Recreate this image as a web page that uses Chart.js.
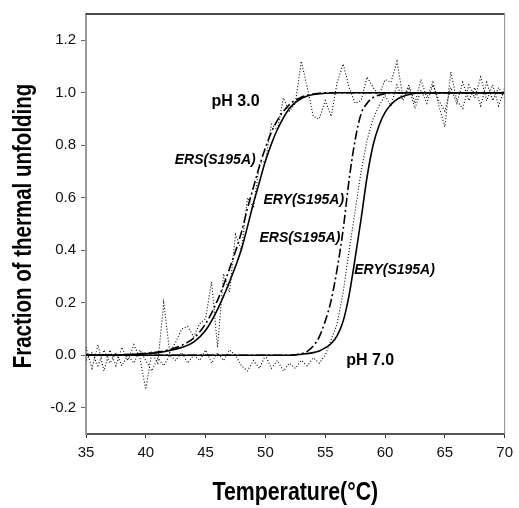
<!DOCTYPE html>
<html>
<head>
<meta charset="utf-8">
<script src="https://cdn.jsdelivr.net/npm/chart.js@4.4.0/dist/chart.umd.min.js"></script>
<style>
  body { margin: 0; background: #fff; }
</style>
</head>
<body>
<canvas id="myChart" width="519" height="508"></canvas>
<script>
var rawTemps = [35, 35.5, 36, 36.5, 37, 37.5, 38, 38.5, 39, 39.5,
    40, 40.5, 41, 41.5, 42, 42.5, 43, 43.5, 44, 44.5,
    45, 45.5, 46, 46.5, 47, 47.5, 48, 48.5, 49, 49.5,
    50, 50.5, 51, 51.5, 52, 52.5, 53, 53.5, 54, 54.5,
    55, 55.5, 56, 56.5, 57, 57.5, 58, 58.5, 59, 59.5,
    60, 60.5, 61, 61.5, 62, 62.5, 63, 63.5, 64, 64.5,
    65, 65.5, 66, 66.5, 67, 67.5, 68, 68.5, 69, 69.5, 70];
var ph3Raw = [0.03, -0.05, 0.04, -0.06, 0.02, -0.04, 0.03, -0.02, 0.04, -0.01,
    -0.13, 0.01, -0.03, 0.20, 0.01, 0.05, 0.10, 0.11, 0.07, 0.12,
    0.14, 0.28, 0.03, 0.31, 0.24, 0.46, 0.40, 0.60, 0.56, 0.73,
    0.74, 0.88, 0.86, 0.98, 0.93, 0.96, 1.12, 1.02, 0.91, 0.90,
    0.97, 0.91, 1.04, 1.11, 1.02, 0.96, 0.97, 1.06, 1.02, 0.99,
    1.05, 1.04, 1.12, 0.98, 1.03, 0.96, 1.05, 0.98, 1.04, 0.95,
    0.87, 1.08, 0.97, 0.94, 1.03, 0.98, 1.06, 0.97, 1.03, 0.95, 1.02];
var ph7Raw = [-0.02, 0.01, -0.04, 0.02, -0.03, 0.01, -0.04, 0.00, -0.03, 0.02,
    -0.02, -0.06, -0.01, -0.04, 0.00, -0.02, 0.01, -0.03, 0.00, -0.02,
    0.02, -0.03, 0.01, -0.02, 0.02, 0.00, -0.04, -0.06, -0.02, -0.05,
    0.00, -0.05, -0.02, -0.06, -0.03, -0.05, -0.02, -0.04, -0.01, -0.03,
    0.00, 0.06, 0.12, 0.24, 0.40, 0.55, 0.70, 0.82, 0.90, 0.95,
    0.99, 0.95, 1.03, 0.97, 1.02, 0.94, 1.01, 0.96, 1.03, 0.97,
    0.93, 1.02, 0.96, 1.04, 0.97, 1.02, 0.95, 1.04, 0.97, 1.02, 0.98];

// fitted curves
var ph3ErsTemps = [35, 38, 40, 41, 42, 43, 44, 45, 46, 47, 48, 48.5, 49, 49.5, 50, 50.5, 51, 52, 53, 54, 55, 70];
var ph3Ers = [0, 0.002, 0.007, 0.012, 0.022, 0.038, 0.065, 0.12, 0.21, 0.33, 0.47, 0.56, 0.64, 0.72, 0.79, 0.85, 0.895, 0.955, 0.983, 0.995, 1.0, 1.0];
var ph3EryTemps = [35, 38, 40, 41, 42, 43, 44, 45, 46, 47, 48, 48.5, 49, 49.5, 50, 50.5, 51, 52, 53, 54, 55, 56, 70];
var ph3Ery = [0, 0.002, 0.006, 0.01, 0.018, 0.03, 0.05, 0.095, 0.175, 0.28, 0.405, 0.49, 0.58, 0.66, 0.74, 0.805, 0.86, 0.94, 0.978, 0.993, 0.998, 1.0, 1.0];
var ph7ErsTemps = [35, 52, 53, 53.5, 54, 54.5, 55, 55.5, 56, 56.5, 57, 57.5, 58, 58.5, 59, 60, 61, 70];
var ph7Ers = [0, 0, 0.006, 0.015, 0.035, 0.07, 0.13, 0.21, 0.33, 0.48, 0.67, 0.82, 0.92, 0.96, 0.982, 0.996, 1.0, 1.0];
var ph7EryTemps = [35, 52, 53, 54, 54.5, 55, 55.5, 56, 56.5, 57, 57.5, 58, 58.5, 59, 59.5, 60, 60.5, 61, 62, 63, 70];
var ph7Ery = [0, 0, 0.004, 0.01, 0.016, 0.028, 0.045, 0.075, 0.13, 0.23, 0.37, 0.52, 0.68, 0.80, 0.875, 0.925, 0.955, 0.975, 0.993, 1.0, 1.0];

var xTicks = [35, 40, 45, 50, 55, 60, 65, 70];
var yTicks = [-0.2, 0, 0.2, 0.4, 0.6, 0.8, 1.0, 1.2];

var xTitle = 'Temperature(°C)';
var yTitle = 'Fraction of thermal unfolding';

// text labels, placed in data units
var notes = [
    { text: 'pH 3.0', x: 45.5, y: 0.966, font: 'bold 16px "Liberation Sans"' },
    { text: 'pH 7.0', x: 56.75, y: -0.02, font: 'bold 16px "Liberation Sans"' },
    { text: 'ERS(S195A)', x: 42.42, y: 0.742, font: 'italic bold 14px "Liberation Sans"' },
    { text: 'ERY(S195A)', x: 49.83, y: 0.592, font: 'italic bold 14px "Liberation Sans"' },
    { text: 'ERS(S195A)', x: 49.5, y: 0.447, font: 'italic bold 14px "Liberation Sans"' },
    { text: 'ERY(S195A)', x: 57.42, y: 0.324, font: 'italic bold 14px "Liberation Sans"' }
];

function pts(xs, ys) {
    return xs.map(function (t, i) { return { x: t, y: ys[i] }; });
}

function fitLine(label, xs, ys, dash) {
    return {
        label: label,
        data: pts(xs, ys),
        borderColor: '#000',
        borderWidth: 1.6,
        borderDash: dash,
        pointRadius: 0,
        cubicInterpolationMode: 'monotone',
        fill: false
    };
}

function rawLine(label, ys) {
    return {
        label: label,
        data: pts(rawTemps, ys),
        borderColor: '#000',
        borderWidth: 1.1,
        borderDash: [1, 2],
        pointRadius: 0,
        tension: 0,
        fill: false
    };
}

// condensed bold text, like the narrow face of the original
function narrowText(ctx, text, x, y, size, rot) {
    ctx.save();
    ctx.translate(x, y);
    ctx.rotate(rot);
    ctx.scale(0.82, 1);
    ctx.font = 'bold ' + size + 'px "Liberation Sans"';
    ctx.textAlign = 'center';
    ctx.textBaseline = 'middle';
    ctx.fillText(text, 0, 0);
    ctx.restore();
}

var textPlugin = {
    id: 'notes',
    afterDraw: function (chart) {
        var ctx = chart.ctx, a = chart.chartArea;
        var xs = chart.scales.x, ys = chart.scales.y;
        ctx.save();
        // frame top and right
        ctx.strokeStyle = '#111';
        ctx.lineWidth = 1.5;
        ctx.beginPath();
        ctx.moveTo(a.left, a.top);
        ctx.lineTo(a.right, a.top);
        ctx.stroke();
        ctx.strokeStyle = '#888';
        ctx.lineWidth = 1;
        ctx.beginPath();
        ctx.moveTo(a.right, a.top);
        ctx.lineTo(a.right, a.bottom);
        ctx.stroke();
        ctx.fillStyle = '#000';
        ctx.textAlign = 'left';
        ctx.textBaseline = 'middle';
        notes.forEach(function (n) {
            ctx.font = n.font;
            ctx.fillText(n.text, xs.getPixelForValue(n.x), ys.getPixelForValue(n.y));
        });
        // axis titles
        narrowText(ctx, xTitle, (a.left + a.right) / 2, 493, 26, 0);
        narrowText(ctx, yTitle, 24, (a.top + a.bottom) / 2 + 2, 25, -Math.PI / 2);
        ctx.restore();
    }
};

var ctx = document.getElementById('myChart').getContext('2d');

var myChart = new Chart(ctx, {
    type: 'line',
    data: {
        datasets: [
            fitLine('pH 3.0 ERS(S195A)', ph3ErsTemps, ph3Ers, [9, 3, 2, 3]),
            fitLine('pH 3.0 ERY(S195A)', ph3EryTemps, ph3Ery, []),
            fitLine('pH 7.0 ERS(S195A)', ph7ErsTemps, ph7Ers, [9, 3, 2, 3]),
            fitLine('pH 7.0 ERY(S195A)', ph7EryTemps, ph7Ery, []),
            rawLine('pH 3.0 data', ph3Raw),
            rawLine('pH 7.0 data', ph7Raw)
        ]
    },
    options: {
        responsive: false,
        animation: false,
        devicePixelRatio: 1,
        layout: { padding: { top: 14, right: 13, left: 0, bottom: 0 } },
        plugins: {
            legend: { display: false },
            tooltip: { enabled: false }
        },
        scales: {
            x: {
                type: 'linear',
                min: 35,
                max: 70,
                afterBuildTicks: function (scale) {
                    scale.ticks = xTicks.map(function (v) { return { value: v }; });
                },
                afterFit: function (scale) { scale.height = 74; },
                ticks: {
                    color: '#111',
                    font: { family: '"Liberation Sans"', size: 15 },
                    padding: 6,
                    maxRotation: 0
                },
                grid: { drawOnChartArea: false, drawTicks: true, tickLength: 4, color: '#333' },
                border: { color: '#555', width: 2 }
            },
            y: {
                min: -0.3,
                max: 1.3,
                afterBuildTicks: function (scale) {
                    scale.ticks = yTicks.map(function (v) { return { value: v }; });
                },
                afterFit: function (scale) { scale.width = 86; },
                ticks: {
                    color: '#111',
                    font: { family: '"Liberation Sans"', size: 15 },
                    padding: 5,
                    callback: function (v) { return Number(v).toFixed(1); }
                },
                grid: { drawOnChartArea: false, drawTicks: true, tickLength: 5, color: '#666' },
                border: { color: '#999', width: 2 }
            }
        }
    },
    plugins: [textPlugin]
});
</script>
</body>
</html>
